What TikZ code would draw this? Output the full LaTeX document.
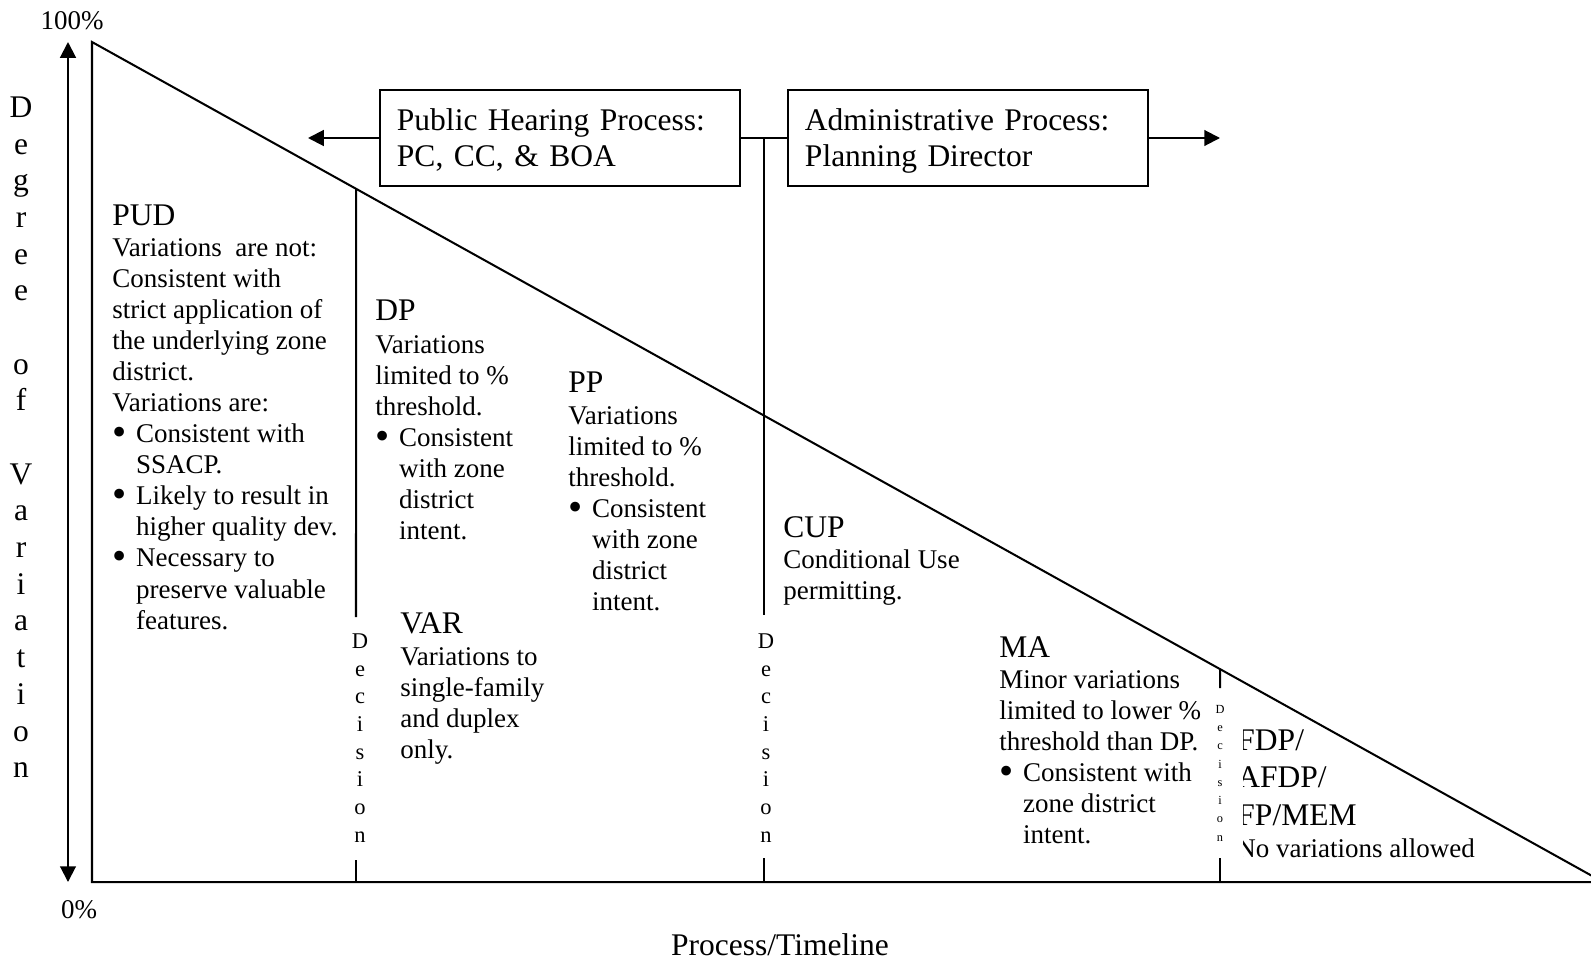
\documentclass[tikz,border=0pt]{standalone}
\usepackage{fontspec}
\setmainfont{Liberation Serif}
\usetikzlibrary{arrows.meta,calc}

% zero-width struts that fix the height of a first line
\newcommand\topstr{\rule{0pt}{10pt}}
\newcommand\topsm{\rule{0pt}{8pt}}
\newcommand\toptiny{\rule{0pt}{4pt}}
% bullet with hanging indent
\newcommand\bul{\makebox[10.5pt][l]{\raisebox{-1.2pt}{\fontsize{18}{18}\selectfont\textbullet}}}
\newcommand\hang{\makebox[10.5pt]{}}

\begin{document}
\begin{tikzpicture}[x=0.4444pt,y=-0.4444pt,
  ln/.style={line width=0.9pt},
  arr/.style={ln,-{Triangle[length=7pt,width=7pt]}},
  head/.style={anchor=base west,inner sep=0pt,font=\fontsize{14}{16.1}\selectfont},
  body/.style={anchor=north west,inner sep=0pt,align=left,font=\fontsize{12}{13.8}\selectfont},
  single/.style={anchor=base,inner sep=0pt,font=\fontsize{12}{13.8}\selectfont},
  declet/.style={anchor=north,inner sep=0pt,align=center,font=\fontsize{10}{12.3}\selectfont},
  procbox/.style={draw,ln,rectangle,text width=144.9pt,inner xsep=7.56pt,inner ysep=0pt,
    minimum height=42.67pt,align=left,font=\fontsize{14}{16.4}\selectfont}
]
\clip (0,0) rectangle (1591,961);

% ---- axes and the variation triangle ----
\coordinate (ytop) at (68,42);
\coordinate (ybot) at (68,882);
\draw[ln,{Triangle[length=7pt,width=7pt]}-{Triangle[length=7pt,width=7pt]}] (ytop) -- (ybot);

\coordinate (T) at (92,42);
\coordinate (B) at (92,882);
\coordinate (R) at (1603,882);
\draw[ln] (T) -- (B) -- (R) -- cycle;

\node[single] (hundred) at (72,30) {100\%};
\node[single] (zero) at (79,918) {0\%};
\node[single,font=\fontsize{14}{16.1}\selectfont] (timeline) at (780,955) {Process/Timeline};

\node[anchor=north,inner sep=0pt,align=center,font=\fontsize{14}{16.3}\selectfont] (dov) at (21,94.5)
  {\topstr D\\e\\g\\r\\e\\e\\[16.3pt]o\\f\\[16.3pt]V\\a\\r\\i\\a\\t\\i\\o\\n};

% ---- process boxes ----
\node[procbox] (pub) at (560,138)
  {\rule{0pt}{12.4pt}Public Hearing Process:\\PC, CC, \& BOA\rule[-3.1pt]{0pt}{3.1pt}};
\node[procbox] (adm) at (968,138)
  {\rule{0pt}{12.4pt}Administrative Process:\\Planning Director\rule[-3.1pt]{0pt}{3.1pt}};
\coordinate (la) at (308,138);
\coordinate (ra) at (1220,138);
\draw[arr] (pub.west) -- (la);
\draw[arr] (adm.east) -- (ra);
\draw[ln] (pub.east) -- (adm.west);
\coordinate (j) at ($(pub.east)!0.5!(adm.west)$);

% ---- decision lines ----
\node[declet] (dec1) at (360,630) {\topsm D\\e\\c\\i\\s\\i\\o\\n};
\node[declet] (dec2) at (766,630) {\topsm D\\e\\c\\i\\s\\i\\o\\n};
\node[declet,font=\fontsize{5.5}{8.1}\selectfont] (dec3) at (1220,704) {\toptiny D\\e\\c\\i\\s\\i\\o\\n};

\coordinate (h1) at (intersection cs: first line={(T)--(R)}, second line={(356,0)--(356,900)});
\coordinate (h3) at (intersection cs: first line={(T)--(R)}, second line={(1220,0)--(1220,900)});
\coordinate (d1a) at (356,617);
\coordinate (d1b) at (356,860);
\coordinate (d2a) at (764,615);
\coordinate (d2b) at (764,858);
\coordinate (d3a) at (1220,688);
\coordinate (d3b) at (1220,858);
\draw[ln] (h1) -- (d1a);
\draw[ln] (d1b) -- (d1b |- B);
\draw[ln] (j) -- (d2a);
\draw[ln] (d2b) -- (d2b |- B);
\draw[ln] (h3) -- (d3a);
\draw[ln] (d3b) -- (d3b |- B);

% ---- PUD ----
\node[head] (pudH) at (112,225) {PUD};
\node[body] (pudB) at (112,233.5) {\topstr Variations\ \ are not:\\
Consistent with\\
strict application of\\
the underlying zone\\
district.\\
Variations are:\\
\bul Consistent with\\
\hang SSACP.\\
\bul Likely to result in\\
\hang higher quality dev.\\
\bul Necessary to\\
\hang preserve valuable\\
\hang features.};

% ---- DP ----
\node[head] (dpH) at (375,320) {DP};
\node[body] (dpB) at (375,330.5) {\topstr Variations\\
limited to \%\\
threshold.\\
\bul Consistent\\
\hang with zone\\
\hang district\\
\hang intent.};

% ---- PP ----
\node[head] (ppH) at (568,392) {PP};
\node[body] (ppB) at (568,401.5) {\topstr Variations\\
limited to \%\\
threshold.\\
\bul Consistent\\
\hang with zone\\
\hang district\\
\hang intent.};

% ---- VAR ----
\node[head] (varH) at (400,633) {VAR};
\node[body] (varB) at (400,642.5) {\topstr Variations to\\
single-family\\
and duplex\\
only.};

% ---- CUP ----
\node[head] (cupH) at (783,537) {CUP};
\node[body] (cupB) at (783,545.5) {\topstr Conditional Use\\
permitting.};

% ---- MA ----
\node[head] (maH) at (999,657) {MA};
\node[body] (maB) at (999,665.5) {\topstr Minor variations\\
limited to lower \%\\
threshold than DP.\\
\bul Consistent with\\
\hang zone district\\
\hang intent.};

% ---- final plats, cut at the left edge of their text frame ----
\begin{scope}
\clip (1243,690) rectangle (1591,900);
\node[anchor=north west,inner sep=0pt,align=left,font=\fontsize{14}{16.67}\selectfont] (fdpH) at (1237,727.5)
  {\topstr FDP/\\AFDP/\\FP/MEM};
\node[single,anchor=base west] (fdpB) at (1236,857) {No variations allowed};
\end{scope}
\end{tikzpicture}
\end{document}
